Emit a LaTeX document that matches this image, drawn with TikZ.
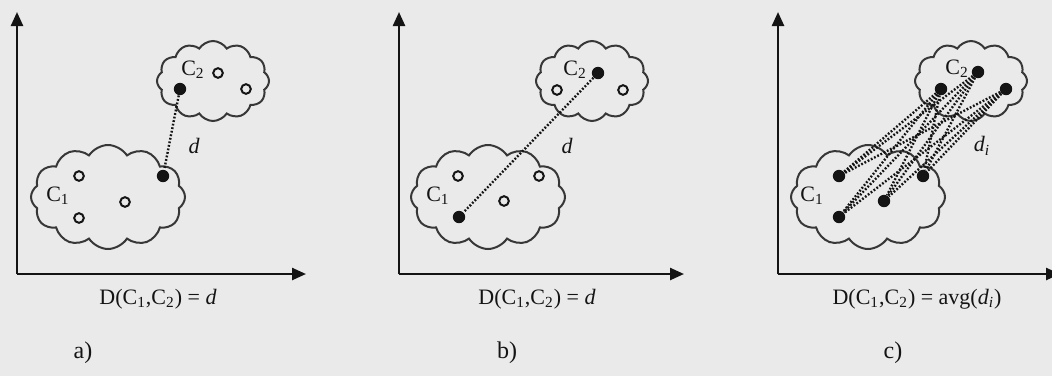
\documentclass[tikz,border=0pt]{standalone}
\usepackage{fontspec}
\setmainfont{Liberation Serif}
\usetikzlibrary{shapes.symbols,arrows.meta}
\definecolor{bg}{RGB}{234,234,234}
\definecolor{ink}{RGB}{20,20,20}
\tikzset{
  axis/.style={line width=1.2pt, draw=ink, -{Triangle[length=7pt,width=6pt]}},
  clus/.style={cloud, cloud puffs=12, cloud puff arc=115, draw=ink!85, line width=1pt, fill=bg, inner sep=0pt},
  full/.style={circle, fill=ink, inner sep=0pt, minimum size=6.2pt},
  hollow/.style={circle, draw=ink, line width=1pt, fill=bg, inner sep=0pt, minimum size=4.8pt},
  link/.style={dash pattern=on 0.9pt off 0.9pt, line width=1.2pt, draw=ink},
  lab/.style={font=\fontsize{11}{13}\selectfont, text=ink, inner sep=0pt},
  paneltitle/.style={font=\fontsize{12}{14}\selectfont, text=ink, inner sep=0pt}
}
\begin{document}
\begin{tikzpicture}[x=0.5pt,y=-0.5pt]
\useasboundingbox[fill=bg] (0,0) rectangle (1052,376);
% ---------- panel a ----------
\coordinate (aO) at (17,274);
\coordinate (aY) at (17,12);
\coordinate (aX) at (306,274);
\draw[axis] (aO) -- (aY);
\draw[axis] (aO) -- (aX);
\node[clus, minimum width=56pt, minimum height=40pt, aspect=1.45] (aC2) at (213,81) {};
\node[clus, minimum width=77pt, minimum height=52pt, aspect=1.5] (aC1) at (108,197) {};
\node[lab] (aL2) at (193,70) {C\textsubscript{2}};
\node[lab] (aL1) at (58,196) {C\textsubscript{1}};
\node[full] (a21) at (180,89) {};
\node[hollow] (a22) at (218,73) {};
\node[hollow] (a23) at (246,89) {};
\node[full] (a11) at (163,176) {};
\node[hollow] (a12) at (79,176) {};
\node[hollow] (a13) at (125,202) {};
\node[hollow] (a14) at (79,218) {};
\draw[link] (a21) -- (a11);
\node[lab] (ad) at (194,146) {\itshape d};
\node[lab] (aF) at (158,299) {D(C\textsubscript{1},C\textsubscript{2}) = \textit{d}};
\node[paneltitle] (aT) at (83,353) {a)};
% ---------- panel b ----------
\coordinate (bO) at (399,274);
\coordinate (bY) at (399,12);
\coordinate (bX) at (684,274);
\draw[axis] (bO) -- (bY);
\draw[axis] (bO) -- (bX);
\node[clus, minimum width=56pt, minimum height=40pt, aspect=1.45] (bC2) at (592,81) {};
\node[clus, minimum width=77pt, minimum height=52pt, aspect=1.5] (bC1) at (488,197) {};
\node[lab] (bL2) at (575,70) {C\textsubscript{2}};
\node[lab] (bL1) at (438,196) {C\textsubscript{1}};
\node[full] (b21) at (598,73) {};
\node[hollow] (b22) at (557,90) {};
\node[hollow] (b23) at (623,90) {};
\node[full] (b11) at (459,217) {};
\node[hollow] (b12) at (458,176) {};
\node[hollow] (b13) at (504,201) {};
\node[hollow] (b14) at (539,176) {};
\draw[link] (b21) -- (b11);
\node[lab] (bd) at (567,146) {\itshape d};
\node[lab] (bF) at (537,299) {D(C\textsubscript{1},C\textsubscript{2}) = \textit{d}};
\node[paneltitle] (bT) at (507,353) {b)};
% ---------- panel c ----------
\coordinate (cO) at (778,274);
\coordinate (cY) at (778,12);
\coordinate (cX) at (1060,274);
\draw[axis] (cO) -- (cY);
\draw[axis] (cO) -- (cX);
\node[clus, minimum width=56pt, minimum height=40pt, aspect=1.45] (cC2) at (971,81) {};
\node[clus, minimum width=77pt, minimum height=52pt, aspect=1.5] (cC1) at (868,197) {};
\node[lab] (cL2) at (957,69) {C\textsubscript{2}};
\node[lab] (cL1) at (812,196) {C\textsubscript{1}};
\node[full] (c21) at (941,89) {};
\node[full] (c22) at (978,72) {};
\node[full] (c23) at (1006,89) {};
\node[full] (c11) at (839,176) {};
\node[full] (c12) at (839,217) {};
\node[full] (c13) at (884,201) {};
\node[full] (c14) at (923,176) {};
\foreach \u in {c21,c22,c23}{
  \foreach \v in {c11,c12,c13,c14}{
    \draw[link] (\u) -- (\v);
  }
}
\node[lab] (cd) at (982,146) {\itshape d\textsubscript{i}};
\node[lab] (cF) at (917,299) {D(C\textsubscript{1},C\textsubscript{2}) = avg(\textit{d}\textsubscript{\textit{i}})};
\node[paneltitle] (cT) at (893,353) {c)};
\end{tikzpicture}
\end{document}
